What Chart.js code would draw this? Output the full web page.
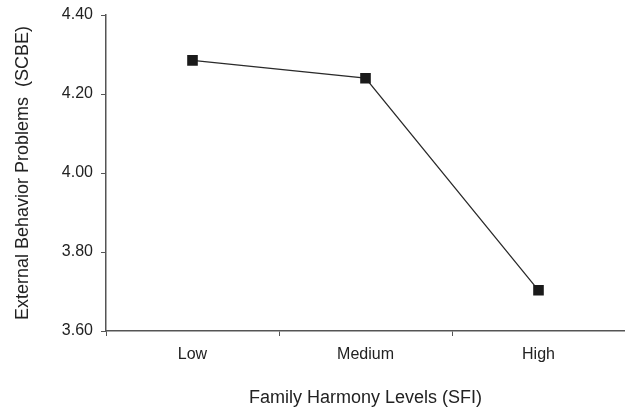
<!DOCTYPE html>
<html lang="en">

<head>
    <meta charset="UTF-8">
    <meta name="viewport" content="width=device-width, initial-scale=1.0">
</head>

<body style="margin:0; background:#fff;">
    <div style="width:625px; height:409px;">
        <canvas id="myChart" width="625" height="409"></canvas>
    </div>

    <script src="https://cdn.jsdelivr.net/npm/chart.js"></script>

    <script>
        const levels = ['Low', 'Medium', 'High'];
        const scbe = [4.285, 4.24, 3.703];
        const yTicks = [3.6, 3.8, 4.0, 4.2, 4.4];

        const axisColor = '#555';
        const textColor = '#222';
        Chart.defaults.font.family = '"Liberation Sans", Arial, sans-serif';
        Chart.defaults.color = textColor;

        new Chart(document.getElementById('myChart'), {
            type: 'line',
            data: {
                labels: levels,
                datasets: [{
                    data: scbe,
                    borderColor: '#2a2a2a',
                    borderWidth: 1.3,
                    pointStyle: 'rect',
                    pointRadius: 7.5,
                    pointBackgroundColor: '#1a1a1a',
                    pointBorderColor: '#1a1a1a',
                    pointBorderWidth: 0,
                    tension: 0
                }]
            },
            options: {
                responsive: false,
                animation: false,
                layout: { autoPadding: false, padding: { top: 15, right: 0, left: 0, bottom: 0 } },
                plugins: { legend: { display: false }, tooltip: { enabled: false } },
                scales: {
                    x: {
                        offset: true,
                        grid: { offset: true, drawOnChartArea: false, tickLength: 5, color: axisColor },
                        border: { color: axisColor, width: 1.5 },
                        ticks: { font: { size: 16 }, padding: 9 },
                        title: {
                            display: true,
                            text: 'Family Harmony Levels (SFI)',
                            font: { size: 18 },
                            padding: { top: 18, bottom: 0 }
                        },
                        afterFit: (s) => { s.height = 78; s.paddingLeft = 0; s.paddingRight = 0; }
                    },
                    y: {
                        min: 3.6,
                        max: 4.4,
                        afterBuildTicks: (s) => { s.ticks = yTicks.map(v => ({ value: v })); },
                        grid: { drawOnChartArea: false, tickLength: 5, color: axisColor },
                        border: { color: axisColor, width: 1.5 },
                        ticks: {
                            font: { size: 16 },
                            padding: 8,
                            callback: (v) => Number(v).toFixed(2)
                        },
                        title: {
                            display: true,
                            text: 'External Behavior Problems  (SCBE)',
                            font: { size: 18 },
                            padding: { top: 12, bottom: 10 }
                        },
                        afterFit: (s) => { s.width = 106; s.paddingTop = 0; s.paddingBottom = 0; }
                    }
                }
            }
        });
    </script>
</body>

</html>
